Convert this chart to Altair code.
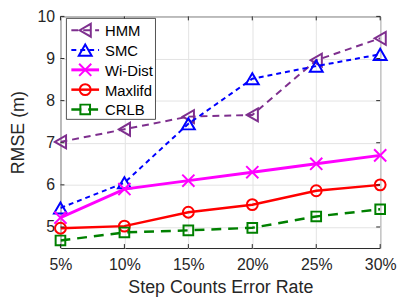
import altair as alt
import pandas as pd

rates = [5, 10, 15, 20, 25, 30]
series = ["HMM", "SMC", "Wi-Dist", "Maxlifd", "CRLB"]
hmm = [7.02, 7.32, 7.62, 7.66, 8.96, 9.48]
smc = [5.45, 6.05, 7.45, 8.52, 8.82, 9.10]
widist = [5.22, 5.90, 6.10, 6.30, 6.50, 6.70]
maxlifd = [4.97, 5.02, 5.35, 5.53, 5.86, 6.00]
crlb = [4.68, 4.87, 4.92, 4.98, 5.25, 5.42]
y_ticks = [5, 6, 7, 8, 9, 10]
x_ticks = [5, 10, 15, 20, 25, 30]

values = [hmm, smc, widist, maxlifd, crlb]
colors = ["#7E2F8E", "#0000FF", "#FF00FF", "#FF0000", "#008000"]
shapes = ["triangle-left", "triangle-up", "M-1,-1L1,1M-1,1L1,-1", "circle", "square"]
dashes = [[7, 5], [5, 4], [], [], [10, 7]]
widths = [2, 2, 3, 2.5, 2.5]
sizes = [170, 170, 150, 120, 95]

W, H = 323, 234
FONT = "Liberation Sans"
TXT = "#262626"

rows = []
for s, v in zip(series, values):
    for r, y in zip(rates, v):
        rows.append({"series": s, "rate": r, "rmse": y})
df = pd.DataFrame(rows)

xenc = alt.X("rate:Q", scale=alt.Scale(domain=[5, 30], nice=False),
             axis=alt.Axis(values=x_ticks, labelExpr="datum.value + '%'",
                           title="Step Counts Error Rate", grid=True))
yenc = alt.Y("rmse:Q", scale=alt.Scale(domain=[4.5, 10], nice=False, zero=False),
             axis=alt.Axis(values=y_ticks, title="RMSE (m)", grid=True))

layers = []
for i, s in enumerate(series):
    sub = alt.Chart(df).transform_filter(alt.datum.series == s)
    lk = dict(color=colors[i], strokeWidth=widths[i], clip=True)
    if dashes[i]:
        lk["strokeDash"] = dashes[i]
    layers.append(sub.mark_line(**lk).encode(x=xenc, y=yenc))
    layers.append(sub.mark_point(shape=shapes[i], filled=False, color=colors[i],
                                 strokeWidth=2, size=sizes[i], opacity=1)
                  .encode(x=xenc, y=yenc))

# inward ticks
xt = pd.DataFrame({"t": x_ticks})
yt = pd.DataFrame({"t": y_ticks})
tk = dict(color=TXT, strokeWidth=1)
layers.append(alt.Chart(xt).mark_rule(**tk).encode(x="t:Q", y=alt.value(H), y2=alt.value(H - 4)))
layers.append(alt.Chart(xt).mark_rule(**tk).encode(x="t:Q", y=alt.value(0), y2=alt.value(4)))
layers.append(alt.Chart(yt).mark_rule(**tk).encode(y="t:Q", x=alt.value(0), x2=alt.value(4)))
layers.append(alt.Chart(yt).mark_rule(**tk).encode(y="t:Q", x=alt.value(W), x2=alt.value(W - 4)))

# legend
one = pd.DataFrame({"a": [0]})
lx0, ly0, lx1, ly1 = 6, 2, 96, 104
layers.append(alt.Chart(one).mark_rect(fill="white", stroke=TXT, strokeWidth=0.8)
              .encode(x=alt.value(lx0), x2=alt.value(lx1), y=alt.value(ly0), y2=alt.value(ly1)))
for i, s in enumerate(series):
    yy = 14 + i * 20
    lk = dict(color=colors[i], strokeWidth=widths[i])
    if dashes[i]:
        lk["strokeDash"] = dashes[i]
    layers.append(alt.Chart(one).mark_rule(**lk)
                  .encode(x=alt.value(11), x2=alt.value(39), y=alt.value(yy)))
    layers.append(alt.Chart(one).mark_point(shape=shapes[i], filled=False, color=colors[i],
                                            strokeWidth=2, size=sizes[i], opacity=1)
                  .encode(x=alt.value(25), y=alt.value(yy)))
    layers.append(alt.Chart(one).mark_text(text=s, align="left", baseline="middle",
                                           font=FONT, fontSize=15, color="#000000")
                  .encode(x=alt.value(45), y=alt.value(yy + 1)))

chart = alt.layer(*layers).properties(
    width=W, height=H,
    autosize=alt.AutoSizeParams(type="none"),
    padding={"left": 53, "top": 7, "right": 18, "bottom": 50},
).configure_view(stroke=TXT, strokeWidth=1).configure_axis(
    domain=False, ticks=False, gridColor="#e3e3e3", gridWidth=1,
    labelFont=FONT, labelFontSize=16, labelColor=TXT, labelFlush=False,
    labelOverlap=False, labelBound=False,
    titleFont=FONT, titleFontSize=18, titleColor=TXT, titleFontWeight="normal",
).configure_axisY(titlePadding=10, labelPadding=6).configure_axisX(titlePadding=6, labelPadding=9)

chart.save("out.html", embed_options={"renderer": "svg", "actions": False})
